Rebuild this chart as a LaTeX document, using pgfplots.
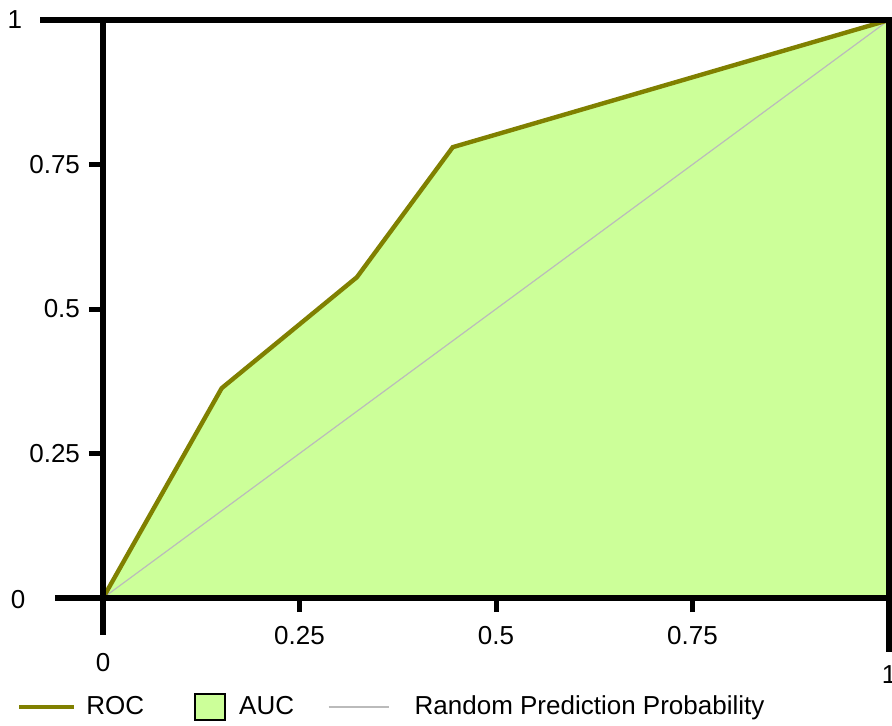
\documentclass[border=0pt]{standalone}
\usepackage{fontspec}
\setmainfont{Liberation Sans}
\usepackage{pgfplots}
\pgfplotsset{compat=1.18}
\usetikzlibrary{calc}
\definecolor{rocolive}{HTML}{808000}
\definecolor{aucgreen}{HTML}{CCFF99}
\definecolor{diaggray}{HTML}{BBBBBB}

\begin{document}
\fontsize{13}{15}\selectfont
\begin{tikzpicture}
\begin{axis}[
    name=ax,
    scale only axis,
    width=393pt, height=289pt,
    xmin=0, xmax=1, ymin=0, ymax=1,
    clip=false,
    axis on top,
    axis line style={line width=3pt, black},
    tick align=outside,
    tick pos=left,
    major tick length=7pt,
    major tick style={line width=2.5pt, black},
    xtick={0.25,0.5,0.75},
    ytick={0.25,0.5,0.75},
    /pgf/number format/assume math mode=true,
    /pgf/number format/fixed,
    tick label style={font=\fontsize{13}{15}\selectfont},
    xticklabel style={yshift=-2.5pt},
    legend columns=3,
    legend style={draw=none, fill=none, inner sep=0pt,
        at={(-0.1094,-0.1886)}, anchor=west,
        font=\fontsize{13}{15}\selectfont,
        /tikz/every odd column/.append style={column sep=3pt},
        /tikz/every even column/.append style={column sep=15pt}},
]
% legend entries
\addlegendimage{legend image code/.code={\draw[rocolive, line width=2pt] (0pt,0pt) -- (27.5pt,0pt);}}
\addlegendentry{ROC}
\addlegendimage{legend image code/.code={\path[draw=none] (-8.5pt,0pt) -- (17pt,0pt);
    \draw[black, line width=1pt, fill=aucgreen] (0pt,-6.5pt) rectangle (15pt,6.5pt);}}
\addlegendentry{AUC}
\addlegendimage{legend image code/.code={\draw[diaggray, line width=0.6pt] (0pt,0pt) -- (30pt,0pt);
    \path[draw=none] (30pt,0pt) -- (38pt,0pt);}}
\addlegendentry{Random Prediction Probability}

% area under curve
\addplot[fill=aucgreen, draw=none, forget plot] coordinates {
    (0,0) (0.151,0.363) (0.323,0.555) (0.445,0.780) (1,1)
} \closedcycle;
% random classifier
\addplot[diaggray, line width=0.6pt, forget plot] coordinates {(0,0) (1,1)};
% ROC curve
\addplot[rocolive, line width=2.2pt, forget plot] coordinates {
    (0,0) (0.151,0.363) (0.323,0.555) (0.445,0.780) (1,1)
};

% extended end ticks and their labels
\draw[line width=3pt] (axis cs:0,1) -- (axis cs:-0.080,1);
\draw[line width=3pt] (axis cs:0,0) -- (axis cs:-0.061,0);
\draw[line width=3pt] (axis cs:0,0) -- (axis cs:0,-0.064);
\draw[line width=3pt] (axis cs:1,0) -- (axis cs:1,-0.093);
\node at (axis cs:-0.112,1) {1};
\node at (axis cs:-0.108,-0.003) {0};
\node at (axis cs:0,-0.112) {0};
\node at (axis cs:1,-0.133) {1};
\end{axis}
\pgfresetboundingbox
\path[use as bounding box] ($(ax.south west)+(-51.5pt,-63.5pt)$) rectangle ($(ax.north east)+(1.5pt,10pt)$);
\end{tikzpicture}
\end{document}
